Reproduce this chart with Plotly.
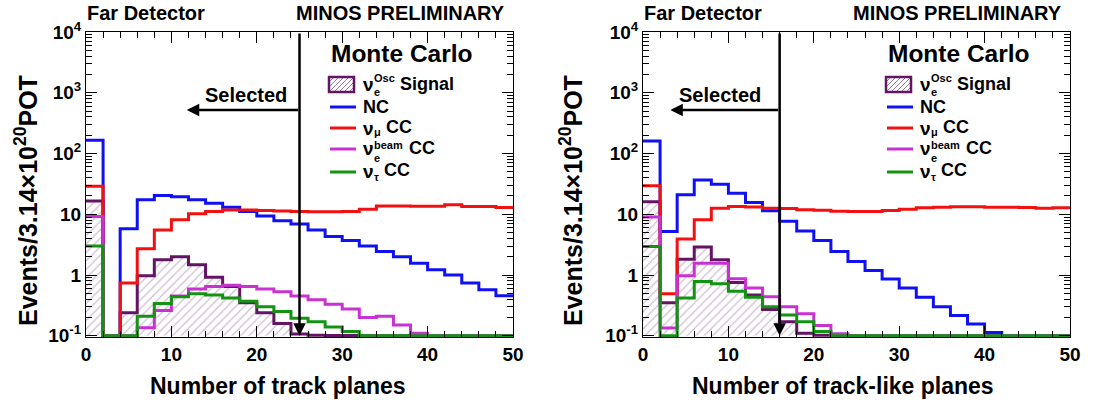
import numpy as np
import plotly.graph_objects as go

W, H = 1095, 402

# ---------------- data ----------------
bin_edges = list(range(0, 52, 2))  # 25 bins of width 2, 0..50

# Left panel: Number of track planes
left_signal = [16.6, 0, 0.24, 0.97, 1.78, 2.0, 1.47, 0.92, 0.65, 0.35, 0.24, 0.16,
               0.107, 0.102, 0.101, 0.101, 0, 0, 0, 0, 0, 0, 0, 0, 0]
left_nc = [165, 0, 5.8, 17.3, 20.3, 19.5, 17.3, 15.2, 13.0, 11.1, 9.4, 7.8,
           6.9, 5.5, 4.3, 3.7, 3.0, 2.44, 2.0, 1.57, 1.22, 1.0, 0.74, 0.57, 0.455]
left_numu = [29, 0, 0.74, 2.7, 5.5, 8.1, 10.2, 11.1, 11.8, 11.8, 11.5, 11.3,
             11.1, 11.0, 11.0, 11.1, 12.1, 13.7, 13.7, 13.6, 13.5, 14.3, 13.4, 13.4, 12.9]
left_nue_beam = [9.2, 0, 0, 0.135, 0.26, 0.45, 0.59, 0.65, 0.68, 0.65, 0.59, 0.53,
                 0.45, 0.39, 0.33, 0.275, 0.2, 0.21, 0.15, 0.11, 0, 0, 0, 0, 0]
left_nutau = [3.0, 0, 0, 0.21, 0.34, 0.44, 0.49, 0.47, 0.42, 0.37, 0.30, 0.25,
              0.195, 0.17, 0.14, 0.118, 0, 0, 0, 0, 0, 0, 0, 0, 0]

# Right panel: Number of track-like planes
right_signal = [16.1, 0.35, 1.82, 2.9, 1.78, 0.75, 0.47, 0.27, 0.17, 0.11, 0.102,
                0, 0, 0, 0, 0, 0, 0, 0, 0, 0, 0, 0, 0, 0]
right_nc = [161, 5.2, 20.9, 36.8, 31.3, 22.2, 15.6, 11.4, 7.7, 5.3, 3.7, 2.44,
            1.67, 1.19, 0.86, 0.61, 0.43, 0.30, 0.216, 0.156, 0.113, 0, 0, 0, 0]
right_numu = [29.6, 0.49, 3.9, 8.1, 12.6, 13.4, 13.2, 12.6, 12.4, 11.9, 11.6, 11.2,
              11.1, 11.1, 11.5, 12.1, 12.8, 13.1, 13.3, 13.3, 13.1, 13.0, 12.9, 12.6, 12.8]
right_nue_beam = [9.0, 0.134, 0.97, 1.57, 1.57, 0.87, 0.61, 0.44, 0.30, 0.23, 0.148, 0.108,
                  0, 0, 0, 0, 0, 0, 0, 0, 0, 0, 0, 0, 0]
right_nutau = [2.94, 0, 0.42, 0.78, 0.72, 0.54, 0.43, 0.30, 0.22, 0.17, 0.118,
               0, 0, 0, 0, 0, 0, 0, 0, 0, 0, 0, 0, 0, 0]

left_cut, right_cut = 25, 16
left_arrow_end, right_arrow_end = 11.8, 3.2
arrow_level = 520

x_tick_vals = [0, 10, 20, 30, 40, 50]
y_tick_vals = [0.1, 1, 10, 100, 1000, 10000]
y_tick_text = ["10<sup>-1</sup>", "1", "10", "10<sup>2</sup>", "10<sup>3</sup>", "10<sup>4</sup>"]

# ---------------- style ----------------
FONT = "Liberation Sans"
YMIN = 0.1
C_SIG = "#641464"
C_HATCH = "#9c7aa3"
C_NC = "#1010f5"
C_NUMU = "#f21010"
C_NUE = "#c832d2"
C_TAU = "#129412"
LW = 3


def step(vals):
    v = np.maximum(np.asarray(vals, dtype=float), YMIN)
    return list(bin_edges), list(np.append(v, v[-1]))


def ppx(x):
    return x / W


def ppy(y):
    return 1 - y / H


fig = go.Figure()

panels = [
    dict(xa="x", ya="y", sig=left_signal, nc=left_nc, numu=left_numu, nue=left_nue_beam,
         tau=left_nutau, cut=left_cut, aend=left_arrow_end),
    dict(xa="x2", ya="y2", sig=right_signal, nc=right_nc, numu=right_numu, nue=right_nue_beam,
         tau=right_nutau, cut=right_cut, aend=right_arrow_end),
]

for p in panels:
    sx, sy = step(p["sig"])
    fig.add_trace(go.Scatter(
        x=[bin_edges[0]] + sx + [bin_edges[-1]], y=[YMIN] + sy + [YMIN],
        mode="lines", line=dict(width=0, shape="hv"), fill="toself",
        fillcolor="rgba(0,0,0,0)",
        fillpattern=dict(shape="/", fgcolor=C_HATCH, bgcolor="rgba(0,0,0,0)", size=6, solidity=0.2),
        xaxis=p["xa"], yaxis=p["ya"], showlegend=False, hoverinfo="skip"))
    for vals, col in [(p["sig"], C_SIG), (p["nc"], C_NC), (p["numu"], C_NUMU),
                      (p["nue"], C_NUE), (p["tau"], C_TAU)]:
        x, y = step(vals)
        fig.add_trace(go.Scatter(x=x, y=y, mode="lines", line=dict(color=col, width=LW, shape="hv"),
                                 xaxis=p["xa"], yaxis=p["ya"], showlegend=False))
    # cut line with arrow
    fig.add_annotation(x=p["cut"], y=np.log10(YMIN), ax=p["cut"], ay=4, xref=p["xa"], yref=p["ya"],
                       axref=p["xa"], ayref=p["ya"], text="", showarrow=True, arrowhead=2,
                       arrowsize=1.0, arrowwidth=2.5, arrowcolor="black")
    fig.add_annotation(x=p["aend"], y=np.log10(arrow_level), ax=p["cut"], ay=np.log10(arrow_level),
                       xref=p["xa"], yref=p["ya"], axref=p["xa"], ayref=p["ya"], text="",
                       showarrow=True, arrowhead=2, arrowsize=1.0, arrowwidth=2.5, arrowcolor="black")

minor_y = [k * 10.0 ** n for n in range(-1, 4) for k in range(2, 10)]
ydom = [ppy(337), ppy(32)]


def xaxis_cfg(dom, anchor):
    return dict(domain=dom, range=[0, 50], anchor=anchor, tickvals=x_tick_vals, automargin=False,
                ticks="inside", ticklen=11, tickwidth=1, tickcolor="black",
                showline=True, linecolor="black", linewidth=1, mirror="allticks",
                showgrid=False, zeroline=False,
                tickfont=dict(family=FONT, size=19, color="black", weight="bold"),
                minor=dict(ticks="inside", ticklen=6, dtick=2, tickcolor="black", showgrid=False))


def yaxis_cfg(anchor):
    return dict(domain=ydom, type="log", range=[-1.02, 4], anchor=anchor, tickvals=y_tick_vals,
                ticktext=y_tick_text, ticks="inside", ticklen=11, tickwidth=1, tickcolor="black",
                showline=True, linecolor="black", linewidth=1, mirror="allticks", automargin=False,
                showgrid=False, zeroline=False,
                tickfont=dict(family=FONT, size=19, color="black", weight="bold"),
                minor=dict(ticks="inside", ticklen=6, tickvals=minor_y, tickcolor="black", showgrid=False))


fig.update_layout(
    width=W, height=H, autosize=False,
    margin=dict(l=0, r=0, t=0, b=0, pad=0, autoexpand=False),
    paper_bgcolor="white", plot_bgcolor="white", showlegend=False,
    xaxis=xaxis_cfg([ppx(86), ppx(513)], "y"),
    yaxis=yaxis_cfg("x"),
    xaxis2=xaxis_cfg([ppx(643), ppx(1070)], "y2"),
    yaxis2=yaxis_cfg("x2"),
)


def txt(x, y, s, size, anchor="left", angle=0):
    fig.add_annotation(x=ppx(x), y=ppy(y), xref="paper", yref="paper", text=s, showarrow=False,
                       xanchor=anchor, yanchor="middle", textangle=angle, borderpad=0,
                       font=dict(family=FONT, size=size, color="black", weight="bold"))


for off, xtitle, xtc, ytx, sel_x in [(0, "Number of track planes", 278, 26, 288),
                                      (557, "Number of track-like planes", 843, 571, 762)]:
    txt(86 + off, 13, "Far Detector", 20)
    txt(506 + off, 13, "MINOS PRELIMINARY", 20, anchor="right")
    txt(330 + off, 53, "Monte Carlo", 24.5)
    txt(sel_x, 95, "Selected", 20, anchor="right")
    txt(xtc, 386, xtitle, 23, anchor="center")
    txt(ytx, 201, "Events/3.14×10<sup>20</sup>POT", 25, anchor="center", angle=-90)

    # legend: hatched box
    bx0, bx1, by0, by1 = 329 + off, 354 + off, 77, 92
    for c in range(bx0 + by0 + 5, bx1 + by1 - 2, 5):
        pts = []
        for xx in (bx0, bx1):
            yy = c - xx
            if by0 <= yy <= by1:
                pts.append((xx, yy))
        for yy in (by0, by1):
            xx = c - yy
            if bx0 <= xx <= bx1:
                pts.append((xx, yy))
        pts = sorted(set(pts))
        if len(pts) >= 2:
            fig.add_shape(type="line", xref="paper", yref="paper", x0=ppx(pts[0][0]), y0=ppy(pts[0][1]),
                          x1=ppx(pts[-1][0]), y1=ppy(pts[-1][1]), line=dict(color=C_HATCH, width=1))
    fig.add_shape(type="rect", xref="paper", yref="paper", x0=ppx(bx0), x1=ppx(bx1), y0=ppy(by1),
                  y1=ppy(by0), line=dict(color=C_SIG, width=2.5))
    for yl, col in [(107, C_NC), (128, C_NUMU), (149, C_NUE), (172, C_TAU)]:
        fig.add_shape(type="line", xref="paper", yref="paper", x0=ppx(330 + off), x1=ppx(356 + off),
                      y0=ppy(yl), y1=ppy(yl), line=dict(color=col, width=3))
    tx = 362 + off
    txt(tx, 85, "ν", 19)
    txt(tx + 11, 78, "Osc", 11)
    txt(tx + 11, 92, "e", 11)
    txt(tx + 37, 84, "Signal", 18)
    txt(tx, 107, "NC", 18)
    txt(tx, 128, "ν", 19)
    txt(tx + 11, 132, "μ", 11)
    txt(tx + 23, 127, "CC", 18)
    txt(tx, 149, "ν", 19)
    txt(tx + 11, 145, "beam", 11)
    txt(tx + 11, 158, "e", 11)
    txt(tx + 46, 148, "CC", 18)
    txt(tx, 171, "ν", 19)
    txt(tx + 11, 177, "τ", 11)
    txt(tx + 21, 170, "CC", 18)

fig.write_html("out.html", config={"displayModeBar": False, "responsive": False})

# remove the default page margin so the figure sits at the window origin
with open("out.html", "r", encoding="utf-8") as f:
    html = f.read()
html = html.replace("<body>", '<body style="margin:0;padding:0;overflow:hidden">', 1)
with open("out.html", "w", encoding="utf-8") as f:
    f.write(html)
